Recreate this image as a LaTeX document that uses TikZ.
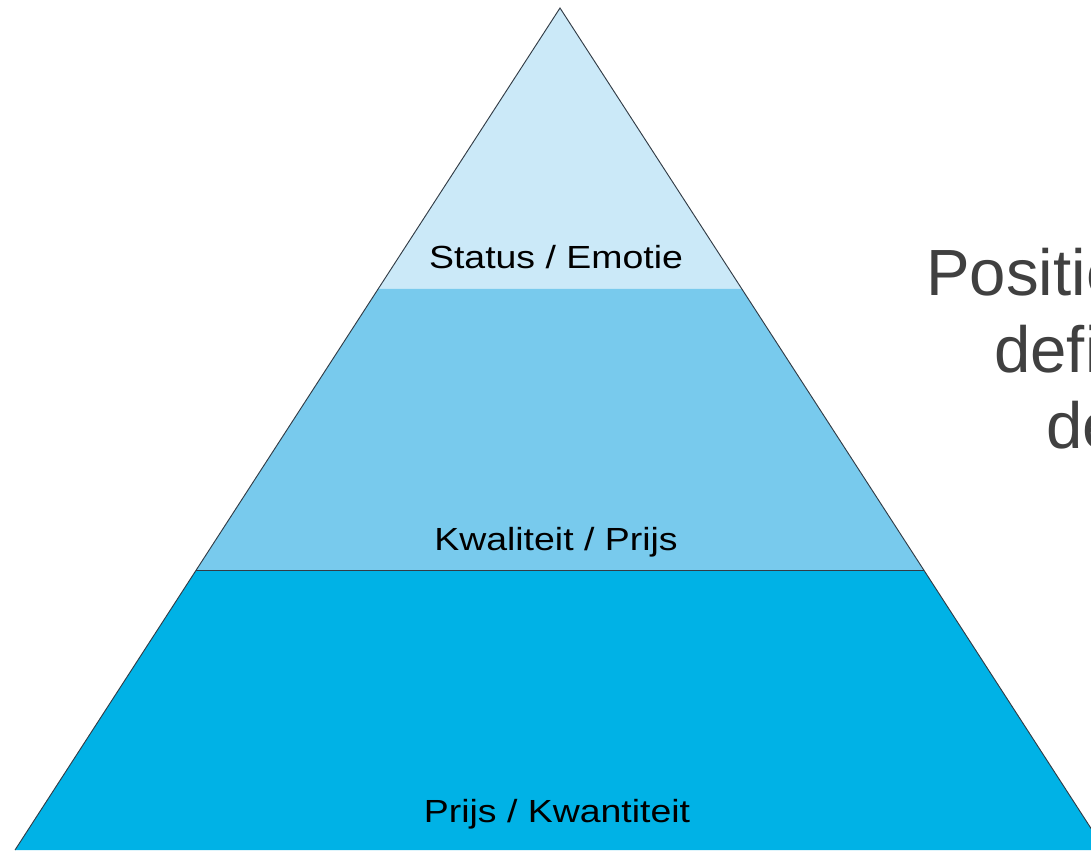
\documentclass[tikz,border=0pt]{standalone}
\usepackage{fontspec}
\setmainfont{Liberation Sans}
\newfontfamily\widesans[FakeStretch=1.17]{Liberation Sans}
\usetikzlibrary{calc}
\definecolor{layertop}{RGB}{203,233,248}
\definecolor{layermid}{RGB}{120,202,237}
\definecolor{layerbot}{RGB}{0,178,230}
\definecolor{edgegray}{RGB}{50,60,70}
\definecolor{titlegray}{RGB}{64,64,64}
\tikzset{
  layerlabel/.style={anchor=base,inner sep=0.75pt,font=\widesans\fontsize{24}{28}\selectfont},
  sidetext/.style={anchor=base west,inner sep=0pt,text=titlegray,font=\fontsize{49}{58}\selectfont},
  outline/.style={draw=edgegray,line width=0.7pt}
}
\begin{document}
\begin{tikzpicture}[x=0.75pt,y=0.75pt,yscale=-1,xscale=1]
\useasboundingbox (0,0) rectangle (1091,850);
\clip (0,0) rectangle (1091,850);

%Pyramid corners
\coordinate (apex) at (560,8);
\coordinate (baseL) at (15,850);
\coordinate (baseR) at (1105,850);
\coordinate (cutL1) at ($(apex)!0.3337!(baseL)$);
\coordinate (cutR1) at ($(apex)!0.3337!(baseR)$);
\coordinate (cutL2) at ($(apex)!0.6675!(baseL)$);
\coordinate (cutR2) at ($(apex)!0.6675!(baseR)$);

%Shape: top layer
\fill [layertop] (apex) -- (cutL1) -- (cutR1) -- cycle;
%Shape: middle layer
\fill [layermid] (cutL1) -- (cutL2) -- (cutR2) -- (cutR1) -- cycle;
%Shape: bottom layer
\fill [layerbot] (cutL2) -- (baseL) -- (baseR) -- (cutR2) -- cycle;
%Straight Lines
\draw [outline] (cutL2) -- (cutR2);
\draw [outline] (baseL) -- (apex) -- (baseR);

% Text Node
\node (status) [layerlabel] at (556,268) {Status / Emotie};
% Text Node
\node (kwaliteit) [layerlabel] at (556,550) {Kwaliteit / Prijs};
% Text Node
\node (kwantiteit) [layerlabel] at (557,822) {Prijs / Kwantiteit};

% Text Node
\node (positie) [sidetext] at (926,295) {Positie};
% Text Node
\node (defi) [sidetext] at (994,372) {defi};
% Text Node
\node (de) [sidetext] at (1046,448) {de};

\end{tikzpicture}
\end{document}
